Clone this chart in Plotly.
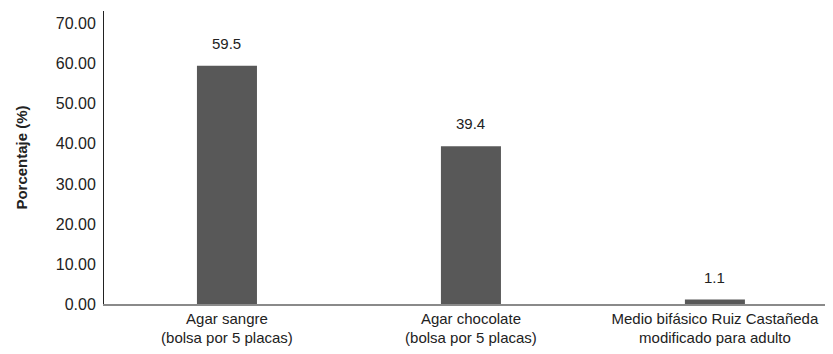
import plotly.graph_objects as go

categories = ["Agar sangre<br>(bolsa por 5 placas)",
              "Agar chocolate<br>(bolsa por 5 placas)",
              "Medio bifásico Ruiz Castañeda<br>modificado para adulto"]
values = [59.5, 39.4, 1.1]
value_labels = ["59.5", "39.4", "1.1"]
y_ticks = [0, 10, 20, 30, 40, 50, 60, 70]
y_tick_labels = ["0.00", "10.00", "20.00", "30.00", "40.00", "50.00", "60.00", "70.00"]

font_family = "Liberation Sans, Arial, sans-serif"
text_color = "#222222"

fig = go.Figure(go.Bar(
    x=[0, 1, 2],
    y=values,
    width=0.246,
    marker=dict(color="#585858", line=dict(width=0)),
    hoverinfo="skip",
))

for i, (v, lab) in enumerate(zip(values, value_labels)):
    fig.add_annotation(
        x=i, y=v, text=lab, showarrow=False,
        yanchor="bottom", yshift=12,
        font=dict(family=font_family, size=15, color=text_color),
    )

# page body has an 8px margin; figure is sized to fit the 833x354 window
fig.update_layout(
    width=825, height=346,
    margin=dict(l=96, r=0, t=3, b=50, autoexpand=False),
    paper_bgcolor="white", plot_bgcolor="white",
    showlegend=False,
    font=dict(family=font_family, size=15, color=text_color),
)

fig.update_xaxes(
    tickmode="array", tickvals=[0, 1, 2], ticktext=categories,
    range=[-0.504, 2.484],
    showline=True, linecolor="#8a8a8a", linewidth=1.5,
    showgrid=False, zeroline=False,
    ticks="", 
    tickfont=dict(family=font_family, size=15, color=text_color),
    automargin=False,
)

fig.update_yaxes(
    tickmode="array", tickvals=y_ticks, ticktext=y_tick_labels,
    range=[0, 73.2],
    showline=True, linecolor="#222222", linewidth=1,
    showgrid=False, zeroline=False,
    ticks="outside", ticklen=4, tickcolor="rgba(0,0,0,0)",
    tickfont=dict(family=font_family, size=16, color=text_color),
    title=dict(text="<b>Porcentaje (%)</b>", font=dict(family=font_family, size=15, color=text_color), standoff=24),
    automargin=False,
)

fig.write_html("out.html")
